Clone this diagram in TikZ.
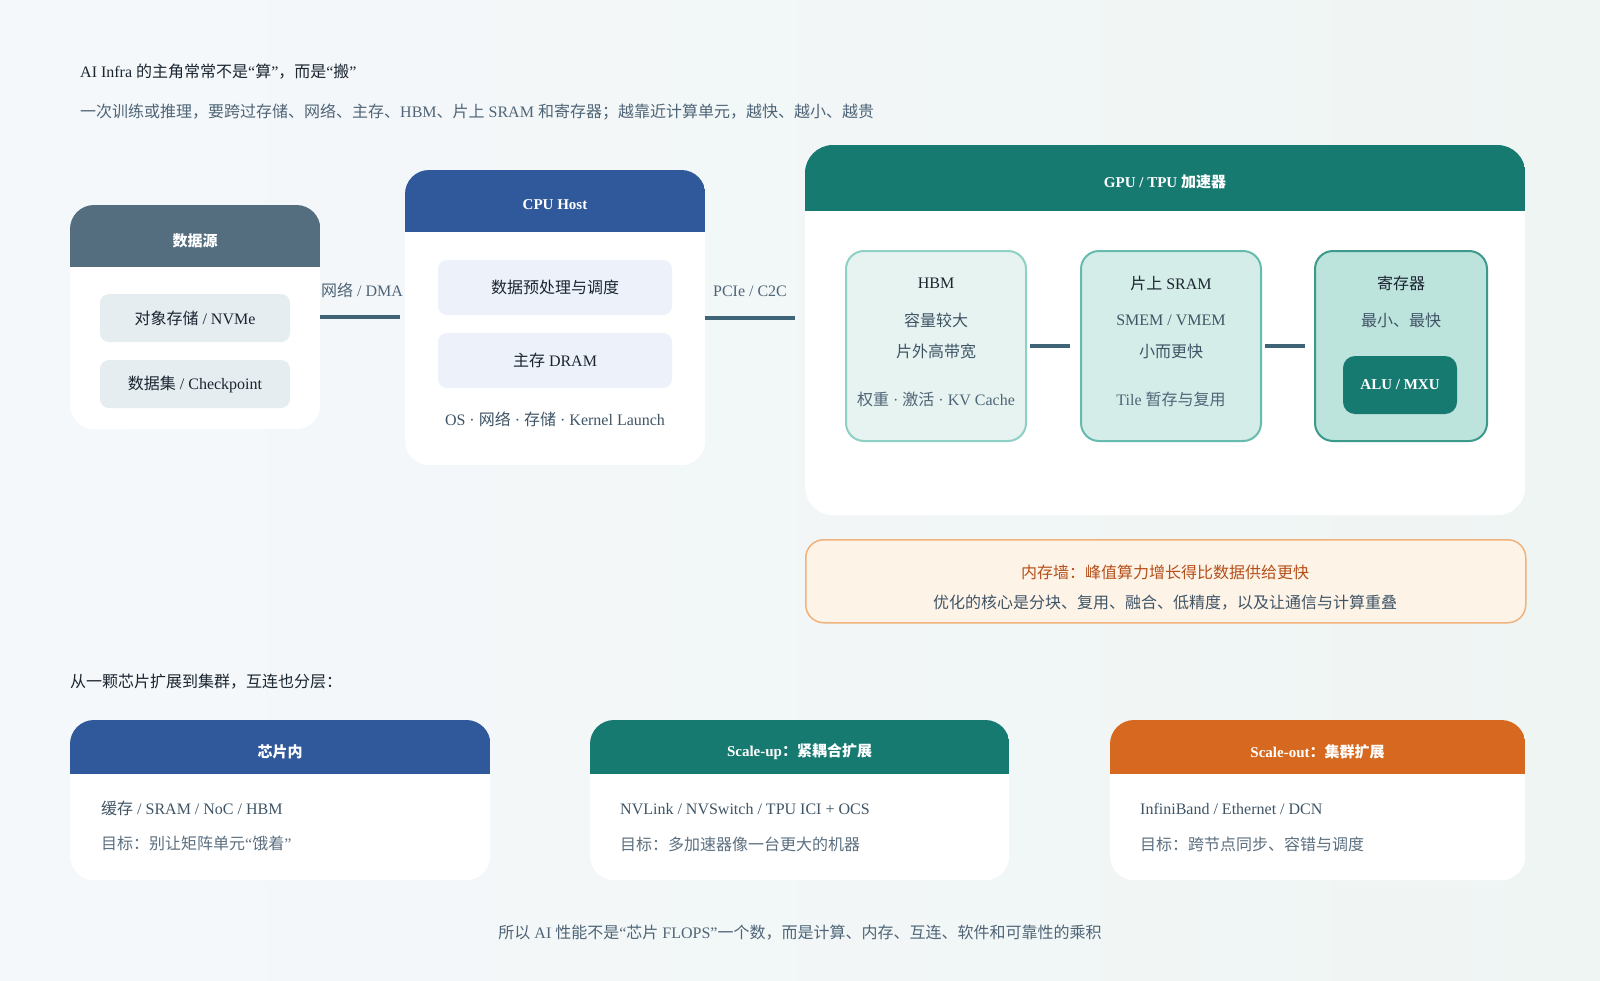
\documentclass[tikz,border=0pt]{standalone}
\usepackage{fontspec}
\setmainfont{Liberation Serif}
\newfontfamily\cjk{Noto Sans CJK SC}
\XeTeXinterchartokenstate=1
\newXeTeXintercharclass\CJKcls
\makeatletter
\count@="3000
\loop\ifnum\count@<"A000 \XeTeXcharclass\count@=\CJKcls \advance\count@ by 1 \repeat
\count@="FF00
\loop\ifnum\count@<"FFF0 \XeTeXcharclass\count@=\CJKcls \advance\count@ by 1 \repeat
\makeatother
\XeTeXcharclass"201C=0 \XeTeXcharclass"201D=0 \XeTeXcharclass"2018=0 \XeTeXcharclass"2019=0 \XeTeXcharclass"00B7=0
\XeTeXinterchartoks 0 \CJKcls = {\begingroup\cjk}
\XeTeXinterchartoks 4095 \CJKcls = {\begingroup\cjk}
\XeTeXinterchartoks \CJKcls 0 = {\endgroup}
\XeTeXinterchartoks \CJKcls 4095 = {\endgroup}

\definecolor{bgA}{HTML}{F5F8FB}
\definecolor{bgB}{HTML}{EFF5F3}
\definecolor{ink}{HTML}{1A2530}
\definecolor{slate}{HTML}{3F5566}
\definecolor{muted}{HTML}{4F6577}
\definecolor{conncol}{HTML}{3F6478}
\definecolor{dshead}{HTML}{546E80}
\definecolor{dsitem}{HTML}{E6EDF1}
\definecolor{blue}{HTML}{30599B}
\definecolor{cpuitem}{HTML}{EDF2FA}
\definecolor{teal}{HTML}{177A71}
\definecolor{orange}{HTML}{D6691F}
\definecolor{hbmfill}{HTML}{E6F3F0}
\definecolor{hbmdraw}{HTML}{8FD0C5}
\definecolor{sramfill}{HTML}{D5EDE8}
\definecolor{sramdraw}{HTML}{66BBAE}
\definecolor{regfill}{HTML}{BDE3DD}
\definecolor{regdraw}{HTML}{3C9A8C}
\definecolor{wallfill}{HTML}{FEF3E7}
\definecolor{walldraw}{HTML}{F0B27A}
\definecolor{walltxt}{HTML}{B5501A}
\definecolor{light}{HTML}{5B6F80}

\newcommand\cardhead[4]{%
  \begin{scope}
    \clip[rounded corners=#4] (#1.north west) rectangle (#1.south east);
    \fill[#3] (#1.north west) rectangle ([yshift=-#2pt]#1.north east);
  \end{scope}}

\tikzset{
  card/.style={fill=white, rounded corners=24pt, inner sep=0pt, anchor=north west},
  hdrtxt/.style={text=white, font=\fontsize{15}{18}\selectfont\bfseries},
  body/.style={font=\fontsize{16}{19}\selectfont, text=ink, inner sep=0pt},
  item/.style={body, rounded corners=9pt, minimum height=48pt},
  conn/.style={draw=conncol, line width=4pt},
  mem/.style={rounded corners=18pt, line width=2pt, minimum width=180pt, minimum height=190pt, anchor=north west, inner sep=0pt},
}

\begin{document}
\begin{tikzpicture}[x=1pt,y=-1pt]
\useasboundingbox (0,0) rectangle (1600,980);
\shade[left color=bgA, right color=bgB] (0,0) rectangle (1600,980);

% titles
\node[body, anchor=west] (title) at (80,72) {AI Infra 的主角常常不是“算”，而是“搬”};
\node[body, anchor=west, text=muted] (sub) at (80,112) {一次训练或推理，要跨过存储、网络、主存、HBM、片上 SRAM 和寄存器；越靠近计算单元，越快、越小、越贵};

% data source
\node[card, minimum width=250pt, minimum height=224pt] (ds) at (70,205) {};
\cardhead{ds}{62}{dshead}{24pt}
\node[hdrtxt] (dsh) at (195,241) {数据源};
\node[item, fill=dsitem, minimum width=190pt] (ds1) at (195,318) {对象存储 / NVMe};
\node[item, fill=dsitem, minimum width=190pt] (ds2) at (195,384) {数据集 / Checkpoint};

% cpu host
\node[card, minimum width=300pt, minimum height=295pt] (cpu) at (405,170) {};
\cardhead{cpu}{62}{blue}{24pt}
\node[hdrtxt] (cpuh) at (555,205) {CPU Host};
\node[item, fill=cpuitem, minimum width=234pt, minimum height=55pt] (cpu1) at (555,287.5) {数据预处理与调度};
\node[item, fill=cpuitem, minimum width=234pt, minimum height=55pt] (cpu2) at (555,360.5) {主存 DRAM};
\node[body, text=slate] (cpu3) at (555,419) {OS · 网络 · 存储 · Kernel Launch};

% gpu
\node[card, rounded corners=28pt, minimum width=720pt, minimum height=370pt] (gpu) at (805,145) {};
\cardhead{gpu}{66}{teal}{28pt}
\node[hdrtxt] (gpuh) at (1165,182) {GPU / TPU 加速器};

\node[mem, fill=hbmfill, draw=hbmdraw] (hbm) at (845,250) {};
\node[body] (hbm1) at (hbm.center |- 0,283) {HBM};
\node[body, text=slate] (hbm2) at (hbm.center |- 0,320) {容量较大};
\node[body, text=slate] (hbm3) at (hbm.center |- 0,351) {片外高带宽};
\node[body, text=muted] (hbm4) at (hbm.center |- 0,399) {权重 · 激活 · KV Cache};

\node[mem, fill=sramfill, draw=sramdraw] (sram) at (1080,250) {};
\node[body] (sram1) at (sram.center |- 0,283) {片上 SRAM};
\node[body, text=slate] (sram2) at (sram.center |- 0,320) {SMEM / VMEM};
\node[body, text=slate] (sram3) at (sram.center |- 0,351) {小而更快};
\node[body, text=muted] (sram4) at (sram.center |- 0,399) {Tile 暂存与复用};

\node[mem, fill=regfill, draw=regdraw, minimum width=172pt] (reg) at (1314,250) {};
\node[body] (reg1) at (reg.center |- 0,283) {寄存器};
\node[body, text=slate] (reg2) at (reg.center |- 0,320) {最小、最快};
\node[hdrtxt, fill=teal, rounded corners=12pt, minimum width=114pt, minimum height=58pt, inner sep=0pt] (alu) at (1400,385) {ALU / MXU};

% connectors
\draw[conn, shorten >=5pt] (ds.east) -- (ds.east -| cpu.west);
\node[body, text=muted] (l1) at (362,290) {网络 / DMA};
\draw[conn, shorten >=10pt] (cpu.east) -- (cpu.east -| gpu.west);
\node[body, text=muted] (l2) at (750,291) {PCIe / C2C};
\draw[conn, shorten <=3pt, shorten >=10pt] (hbm.east) -- (sram.west);
\draw[conn, shorten <=3pt, shorten >=9pt] (sram.east) -- (reg.west);

% memory wall
\node[rounded corners=18pt, fill=wallfill, draw=walldraw, line width=1.5pt, minimum width=720pt, minimum height=83pt, anchor=north west] (wall) at (805,539) {};
\node[body, text=walltxt] (wall1) at (1165,572) {内存墙：峰值算力增长得比数据供给更快};
\node[body, text=slate] (wall2) at (1165,603) {优化的核心是分块、复用、融合、低精度，以及让通信与计算重叠};

% lower section
\node[body, anchor=west] (sec) at (70,682) {从一颗芯片扩展到集群，互连也分层：};

\node[card, minimum width=420pt, minimum height=160pt] (b1) at (70,720) {};
\cardhead{b1}{54}{blue}{24pt}
\node[hdrtxt] (b1h) at (280,752) {芯片内};
\node[body, anchor=west, text=slate] (b1a) at (101,808) {缓存 / SRAM / NoC / HBM};
\node[body, anchor=west, text=light] (b1b) at (101,843) {目标：别让矩阵单元“饿着”};

\node[card, minimum width=419pt, minimum height=160pt] (b2) at (590,720) {};
\cardhead{b2}{54}{teal}{24pt}
\node[hdrtxt] (b2h) at (799.5,752) {Scale-up：紧耦合扩展};
\node[body, anchor=west, text=slate] (b2a) at (620,809) {NVLink / NVSwitch / TPU ICI + OCS};
\node[body, anchor=west, text=light] (b2b) at (620,844) {目标：多加速器像一台更大的机器};

\node[card, minimum width=415pt, minimum height=160pt] (b3) at (1110,720) {};
\cardhead{b3}{54}{orange}{24pt}
\node[hdrtxt] (b3h) at (1317.5,752) {Scale-out：集群扩展};
\node[body, anchor=west, text=slate] (b3a) at (1140,809) {InfiniBand / Ethernet / DCN};
\node[body, anchor=west, text=light] (b3b) at (1140,844) {目标：跨节点同步、容错与调度};

\node[body, text=muted] (foot) at (800,933) {所以 AI 性能不是“芯片 FLOPS”一个数，而是计算、内存、互连、软件和可靠性的乘积};
\end{tikzpicture}
\end{document}
